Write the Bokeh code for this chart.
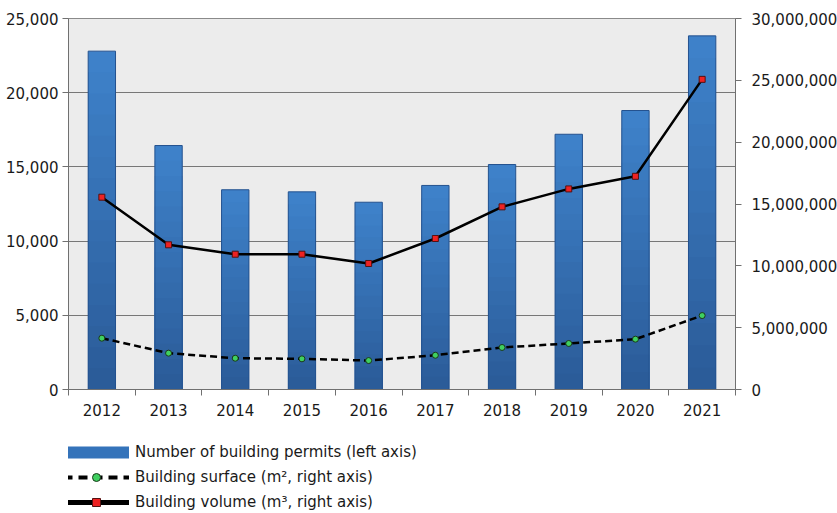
from bokeh.plotting import figure
from bokeh.layouts import column
from bokeh.models import (ColumnDataSource, Range1d, LinearAxis, FixedTicker,
                          NumeralTickFormatter, Legend, LegendItem)
from bokeh.embed import file_html
from bokeh.resources import INLINE

years = ["2012", "2013", "2014", "2015", "2016", "2017", "2018", "2019", "2020", "2021"]
permits = [22800, 16440, 13460, 13320, 12620, 13750, 15160, 17200, 18800, 23830]
volume = [15550000, 11700000, 10940000, 10940000, 10190000, 12210000, 14770000, 16220000, 17240000, 25080000]
surface = [4150000, 2940000, 2530000, 2480000, 2340000, 2770000, 3400000, 3720000, 4070000, 5980000]
left_ticks = [0, 5000, 10000, 15000, 20000, 25000]
right_ticks = [0, 5000000, 10000000, 15000000, 20000000, 25000000, 30000000]
legend_labels = ["Number of building permits (left axis)",
                 "Building surface (m², right axis)",
                 "Building volume (m³, right axis)"]

FONT = "DejaVu Sans"
BAR = "#3473ba"
BAR_TOP = (0x3e, 0x81, 0xc9)
BAR_BOTTOM = (0x2b, 0x5c, 0x99)
xs = list(range(len(years)))
src = ColumnDataSource(dict(x=xs, permits=permits, volume=volume, surface=surface))

p = figure(frame_width=667, frame_height=371, output_backend="svg", toolbar_location=None,
           x_range=Range1d(-0.5, len(years) - 0.5), y_range=Range1d(0, 25000),
           min_border_left=68, min_border_right=90, min_border_top=18, min_border_bottom=10)
p.extra_y_ranges = {"right": Range1d(0, 30000000)}
p.background_fill_color = "#ececec"
p.outline_line_color = "#8a8a8a"

# bars with a vertical shading (lighter at the top, darker at the bottom)
N = 16
for k in range(N):
    t = k / (N - 1)
    c = tuple(round(BAR_TOP[i] + (BAR_BOTTOM[i] - BAR_TOP[i]) * t) for i in range(3))
    frac = 1 - k / N
    p.vbar(x=xs, top=[v * frac for v in permits], width=0.41,
           fill_color="#%02x%02x%02x" % c, line_color=None)
p.vbar(x="x", top="permits", width=0.41, source=src,
       fill_color=None, line_color="#24528f", line_width=1)

p.line(x="x", y="surface", source=src, y_range_name="right",
       line_color="black", line_width=2.5, line_dash="7 4")
p.scatter(x="x", y="surface", source=src, y_range_name="right",
          marker="circle", size=6, fill_color="#3fd060", line_color="#1a3a1a")
p.line(x="x", y="volume", source=src, y_range_name="right",
       line_color="black", line_width=2.5)
p.scatter(x="x", y="volume", source=src, y_range_name="right",
          marker="square", size=6, fill_color="#ee2222", line_color="#551111")

# axes
p.xaxis.ticker = FixedTicker(ticks=xs, minor_ticks=[i - 0.5 for i in range(len(years) + 1)])
p.xaxis.major_label_overrides = {i: y for i, y in enumerate(years)}
p.xaxis.major_tick_line_color = None
p.xaxis.minor_tick_line_color = "#707070"
p.xaxis.minor_tick_out = 6
p.xaxis.minor_tick_in = 0
p.xaxis.axis_line_color = "#707070"
p.xaxis.major_label_text_font = FONT
p.xaxis.major_label_text_font_size = "15px"
p.xaxis.major_label_text_color = "#1a1a1a"
p.xaxis.major_label_standoff = 8

p.yaxis.ticker = FixedTicker(ticks=left_ticks)
p.yaxis.formatter = NumeralTickFormatter(format="0,0")
p.yaxis.minor_tick_line_color = None
p.yaxis.major_tick_line_color = "#707070"
p.yaxis.major_tick_out = 6
p.yaxis.major_tick_in = 0
p.yaxis.axis_line_color = "#707070"
p.yaxis.major_label_text_font = FONT
p.yaxis.major_label_text_font_size = "15px"
p.yaxis.major_label_text_color = "#1a1a1a"
p.yaxis.major_label_standoff = 4

ry = LinearAxis(y_range_name="right", ticker=FixedTicker(ticks=right_ticks),
                formatter=NumeralTickFormatter(format="0,0"))
ry.minor_tick_line_color = None
ry.major_tick_line_color = "#707070"
ry.major_tick_out = 6
ry.major_tick_in = 0
ry.axis_line_color = "#707070"
ry.major_label_text_font = FONT
ry.major_label_text_font_size = "15px"
ry.major_label_text_color = "#1a1a1a"
ry.major_label_standoff = 10
p.add_layout(ry, "right")

p.xgrid.grid_line_color = None
p.ygrid.grid_line_color = "#777777"
p.ygrid.grid_line_width = 1

# legend figure below the chart (legend renderers hold one point outside the view)
LH = 95
q = figure(width=825, height=LH, output_backend="svg", toolbar_location=None,
           x_range=Range1d(0, 1), y_range=Range1d(0, 1),
           min_border=0)
q.axis.visible = False
q.grid.visible = False
q.outline_line_color = None
off = ColumnDataSource(dict(x=[-10, -9], y=[-10, -10]))
lg_bar = q.line(x="x", y="y", source=off, line_color=BAR, line_width=12)
lg_surf_l = q.line(x="x", y="y", source=off, line_color="black", line_width=4, line_dash="9 6")
lg_surf_m = q.scatter(x="x", y="y", source=off, marker="circle", size=8,
                      fill_color="#3fd060", line_color="#1a3a1a")
lg_vol_l = q.line(x="x", y="y", source=off, line_color="black", line_width=5)
lg_vol_m = q.scatter(x="x", y="y", source=off, marker="square", size=8,
                     fill_color="#ee2222", line_color="#551111")

legend = Legend(items=[
    LegendItem(label=legend_labels[0], renderers=[lg_bar]),
    LegendItem(label=legend_labels[1], renderers=[lg_surf_l, lg_surf_m]),
    LegendItem(label=legend_labels[2], renderers=[lg_vol_l, lg_vol_m]),
], orientation="vertical", location=(-5, 1))
legend.glyph_width = 66
legend.glyph_height = 20
legend.label_height = 20
legend.spacing = 5
legend.padding = 0
legend.margin = 0
legend.label_standoff = 6
legend.label_text_font = FONT
legend.label_text_font_size = "15px"
legend.label_text_color = "#1a1a1a"
legend.border_line_color = None
legend.background_fill_alpha = 0
q.add_layout(legend)

open("out.html", "w").write(file_html(column(p, q), INLINE))
